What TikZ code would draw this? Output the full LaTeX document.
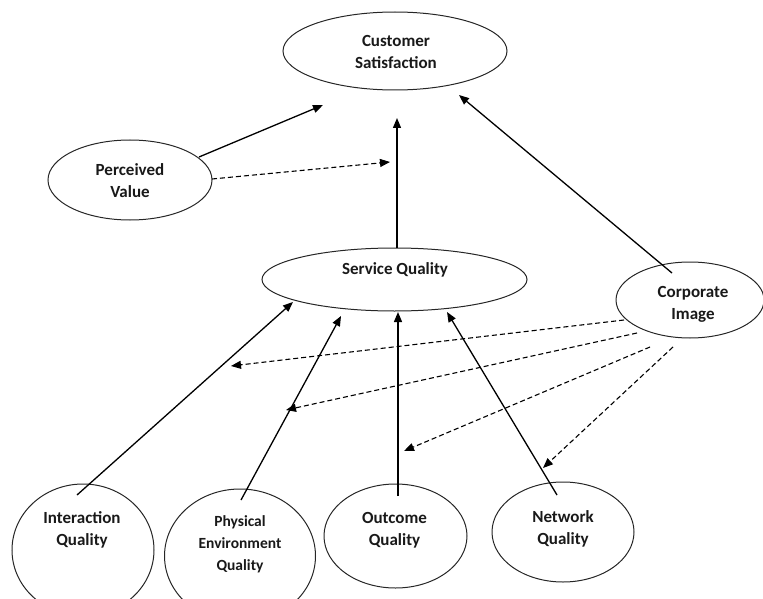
\documentclass[tikz,border=0pt]{standalone}
\usepackage{fontspec}
\setmainfont{Carlito}
\usetikzlibrary{shapes.geometric,arrows.meta}
\begin{document}
\begin{tikzpicture}[x=1pt,y=-1pt,
  oval/.style={draw=black!85,line width=1pt,ellipse,inner sep=0pt},
  lbl/.style={align=center,font=\fontsize{17}{22}\selectfont\bfseries,text=black!90,inner sep=0pt},
  lblsmall/.style={align=center,font=\fontsize{15.5}{22}\selectfont\bfseries,text=black!90,inner sep=0pt},
  solidarrow/.style={line width=1.3pt,-{Triangle[length=10pt,width=8pt]}},
  dasharrow/.style={line width=1.1pt,dash pattern=on 5pt off 3pt,-{Triangle[length=10pt,width=8pt]}}]
\useasboundingbox (0,0) rectangle (763,599);
% ellipses
\node[oval,minimum width=224pt,minimum height=78pt] (cs) at (395,51) {};
\node[oval,minimum width=164pt,minimum height=80pt] (pv) at (130,180) {};
\node[oval,minimum width=265pt,minimum height=63pt] (sq) at (394.5,279.5) {};
\node[oval,minimum width=148pt,minimum height=76pt] (ci) at (690,300) {};
\node[oval,minimum width=142pt,minimum height=132pt] (iq) at (83,550) {};
\node[oval,minimum width=151pt,minimum height=134pt] (pe) at (240,556) {};
\node[oval,minimum width=143pt,minimum height=104pt] (oq) at (395.5,536) {};
\node[oval,minimum width=142pt,minimum height=100pt] (nq) at (563,532) {};
% labels
\node[lbl] (cst) at (396,52) {Customer\\Satisfaction};
\node[lbl] (pvt) at (130,181) {Perceived\\Value};
\node[lbl] (sqt) at (395,270) {Service Quality};
\node[lbl] (cit) at (693,304) {Corporate\\Image};
\node[lbl] (iqt) at (82,530) {Interaction\\Quality};
\node[lblsmall] (pet) at (240,544) {Physical\\Environment\\Quality};
\node[lbl] (oqt) at (394.5,530) {Outcome\\Quality};
\node[lbl] (nqt) at (563,529) {Network\\Quality};
% connector end points
\coordinate (pvA) at (199,157);  \coordinate (csA) at (323,105);
\coordinate (sqA) at (397,248);  \coordinate (csB) at (397,118);
\coordinate (ciA) at (672,273);  \coordinate (csC) at (459,95);
\coordinate (iqA) at (77,495);   \coordinate (sqB) at (293,302);
\coordinate (peA) at (241,500);  \coordinate (sqC) at (341,316);
\coordinate (oqA) at (398,496);  \coordinate (sqD) at (398,312);
\coordinate (nqA) at (557,495);  \coordinate (sqE) at (447,312);
\coordinate (pvB) at (212,179);  \coordinate (dvA) at (390,162);
\coordinate (ciB) at (624,320);  \coordinate (dA) at (231,366);
\coordinate (ciC) at (637,333);  \coordinate (dB) at (286,410);
\coordinate (ciD) at (650,347);  \coordinate (dC) at (404,451);
\coordinate (ciE) at (673,347);  \coordinate (dD) at (543,468);
% solid arrows
\draw[solidarrow] (pvA) -- (csA);
\draw[solidarrow] (sqA) -- (csB);
\draw[solidarrow] (ciA) -- (csC);
\draw[solidarrow] (iqA) -- (sqB);
\draw[solidarrow] (peA) -- (sqC);
\draw[solidarrow] (oqA) -- (sqD);
\draw[solidarrow] (nqA) -- (sqE);
% dashed arrows
\draw[dasharrow] (pvB) -- (dvA);
\draw[dasharrow] (ciB) -- (dA);
\draw[dasharrow] (ciC) -- (dB);
\draw[dasharrow] (ciD) -- (dC);
\draw[dasharrow] (ciE) -- (dD);
\end{tikzpicture}
\end{document}
